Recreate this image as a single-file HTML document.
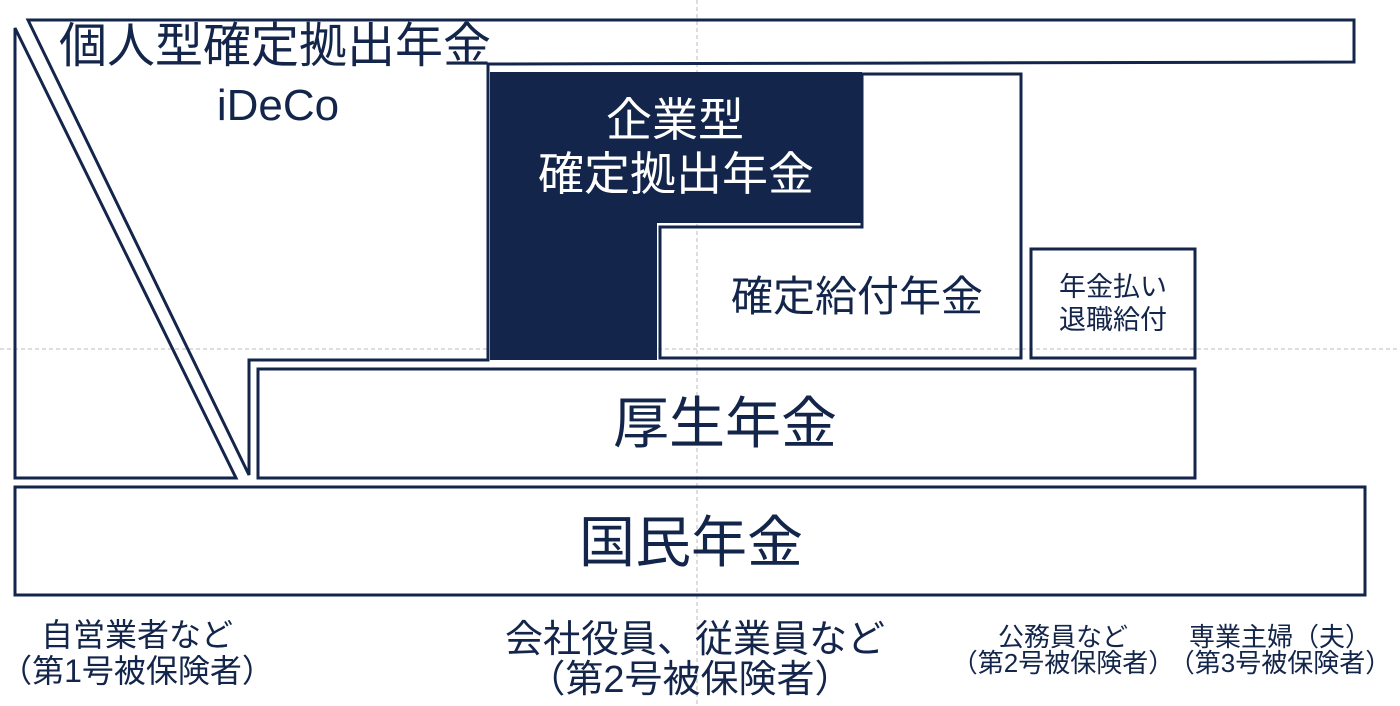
<!DOCTYPE html>
<html><head><meta charset="utf-8"><style>
html,body{margin:0;padding:0;background:#fff;width:1400px;height:706px;overflow:hidden}
svg{display:block}
text{font-family:"Liberation Sans","Noto Sans CJK JP",sans-serif;fill:#13254a}
</style></head><body>
<svg width="1400" height="706" viewBox="0 0 1400 706" xmlns="http://www.w3.org/2000/svg">
<g stroke="#bbb" stroke-width="1" stroke-dasharray="4,3" fill="none">
<line x1="697" y1="0" x2="697" y2="706"/>
<line x1="0" y1="349" x2="1400" y2="349"/>
</g>
<g fill="none" stroke="#13254a" stroke-width="3" stroke-linejoin="miter">
<polygon points="28,20 1354,20 1354,62 488,64 488,360 249,360 249,475"/>
<polygon points="15,28 15,478 236,478"/>
<polygon points="862,74 1021,74 1021,358 660,358 660,227 862,227"/>
<rect x="1031" y="249" width="164" height="109"/>
<rect x="258" y="369" width="937" height="109"/>
<rect x="15" y="487" width="1350" height="108"/>
</g>
<polygon points="490,72 862,72 862,223 657,223 657,360 490,360" fill="#13254a"/>
<text x="275" y="62" font-size="48" text-anchor="middle">個人型確定拠出年金</text>
<text x="278" y="120" font-size="44" text-anchor="middle">iDeCo</text>
<text x="675" y="136" font-size="46" text-anchor="middle" style="fill:#fff">企業型</text>
<text x="676" y="190" font-size="46" text-anchor="middle" style="fill:#fff">確定拠出年金</text>
<text x="857" y="311" font-size="42" text-anchor="middle">確定給付年金</text>
<text x="1113" y="296" font-size="27" text-anchor="middle">年金払い</text>
<text x="1113" y="329" font-size="27" text-anchor="middle">退職給付</text>
<text x="725" y="443" font-size="56" text-anchor="middle">厚生年金</text>
<text x="691" y="562" font-size="56" text-anchor="middle">国民年金</text>
<text x="137" y="646" font-size="32" text-anchor="middle">自営業者など</text>
<text x="137" y="682" font-size="32" text-anchor="middle">（第1号被保険者）</text>
<text x="695" y="652" font-size="38" text-anchor="middle">会社役員、従業員など</text>
<text x="690" y="692" font-size="38" text-anchor="middle">（第2号被保険者）</text>
<text x="1063" y="646" font-size="26" text-anchor="middle">公務員など</text>
<text x="1063" y="672" font-size="26" text-anchor="middle">（第2号被保険者）</text>
<text x="1280" y="646" font-size="26" text-anchor="middle">専業主婦（夫）</text>
<text x="1280" y="672" font-size="26" text-anchor="middle">（第3号被保険者）</text>
</svg>
</body></html>
